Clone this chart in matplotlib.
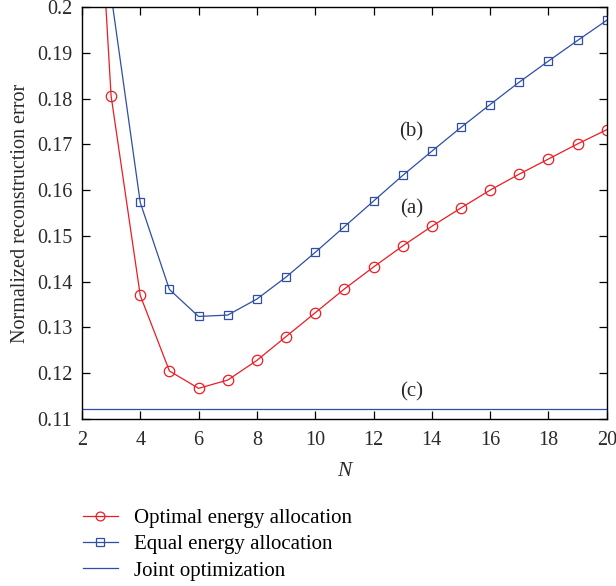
import numpy as np
import matplotlib
matplotlib.use('Agg')
import matplotlib.pyplot as plt

# data
n_opt = [2, 3, 4, 5, 6, 7, 8, 9, 10, 11, 12, 13, 14, 15, 16, 17, 18, 19, 20]
err_opt = [0.290, 0.1806, 0.1370, 0.1205, 0.1167, 0.1185, 0.1228, 0.1280, 0.1332,
           0.1384, 0.1432, 0.1478, 0.1521, 0.1561, 0.1600, 0.1635, 0.1668, 0.1701, 0.1732]
n_eq = [2, 3, 4, 5, 6, 7, 8, 9, 10, 11, 12, 13, 14, 15, 16, 17, 18, 19, 20]
err_eq = [0.300, 0.2027, 0.1573, 0.1383, 0.1324, 0.1327, 0.1362, 0.1410, 0.1464,
          0.1520, 0.1576, 0.1632, 0.1685, 0.1737, 0.1787, 0.1836, 0.1882, 0.1927, 0.1971]
joint_err = 0.1121

labels = ['Optimal energy allocation', 'Equal energy allocation', 'Joint optimization']
annots = [('(a)', 13.3, 0.1559), ('(b)', 13.3, 0.1727), ('(c)', 13.3, 0.1160)]

plt.rcParams['font.family'] = ['Liberation Serif', 'DejaVu Serif']
plt.rcParams['font.size'] = 14.5

red = '#ec1c24'
blue = '#2f4ea6'
txtc = '#2a2a2a'

fig = plt.figure(figsize=(6.16, 5.86), dpi=100)
ax = fig.add_axes([0.133, 0.285, 0.852, 0.703])

ax.plot(n_opt, err_opt, color=red, lw=0.9, marker='o', ms=7.5, mfc='none',
        mec=red, mew=0.9, label=labels[0])
ax.plot(n_eq, err_eq, color=blue, lw=0.9, marker='s', ms=6, mfc='none',
        mec=blue, mew=0.9, label=labels[1])
ax.axhline(joint_err, color=blue, lw=0.9, label=labels[2])

for txt, x, y in annots:
    ax.text(x, y, txt, ha='center', va='center', fontsize=15, color=txtc)

ax.set_xlim(2, 20)
ax.set_ylim(0.11, 0.2)
ax.set_xticks(np.arange(2, 21, 2))
ax.set_yticks(np.arange(0.11, 0.2001, 0.01))
ax.set_yticklabels(['0.11', '0.12', '0.13', '0.14', '0.15', '0.16', '0.17', '0.18', '0.19', '0.2'])
ax.tick_params(direction='in', top=True, right=True, length=6, width=0.9,
               labelsize=14.5, labelcolor=txtc)
ax.tick_params(axis='x', pad=9)
ax.tick_params(axis='y', pad=7)
for s in ax.spines.values():
    s.set_linewidth(1.0)

ax.set_xlabel('N', style='italic', fontsize=15.5, color=txtc, labelpad=8)
ax.set_ylabel('Normalized reconstruction error', fontsize=14.5, color=txtc, labelpad=5)

fig.legend(loc='upper left', bbox_to_anchor=(0.135, 0.132), frameon=False,
           handlelength=1.65, labelspacing=0.32, handletextpad=0.8, fontsize=15,
           borderaxespad=0, borderpad=0, markerscale=0.85)

fig.savefig('out.png', dpi=100)
